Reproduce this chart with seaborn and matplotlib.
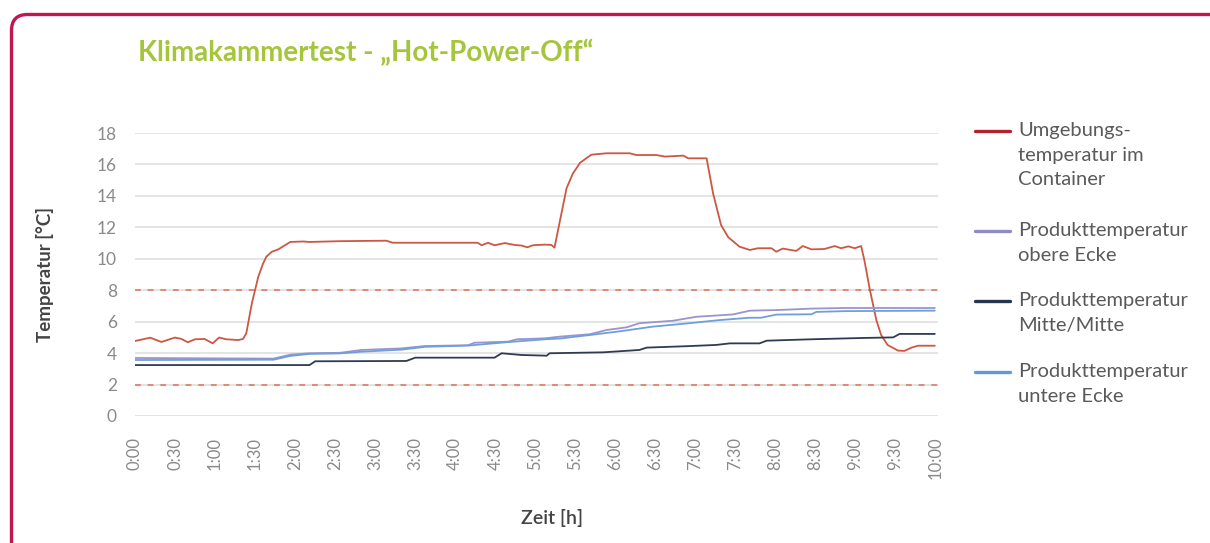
import numpy as np
import pandas as pd
import seaborn as sns
import matplotlib.pyplot as plt
from matplotlib.lines import Line2D
from matplotlib.patches import FancyBboxPatch

# Zeit in Stunden, Temperatur in °C
t_umg = [0.00, 0.19, 0.33, 0.50, 0.58, 0.66, 0.75, 0.87, 0.97, 1.05, 1.14, 1.29, 1.35, 1.39,
         1.46, 1.54, 1.60, 1.64, 1.71, 1.79, 1.94, 2.10, 2.18, 2.56, 3.14, 3.22, 4.28, 4.33,
         4.41, 4.49, 4.62, 4.74, 4.83, 4.90, 4.97, 5.12, 5.20, 5.24, 5.39, 5.47, 5.56, 5.70,
         5.89, 6.18, 6.26, 6.51, 6.62, 6.85, 6.91, 7.14, 7.22, 7.32, 7.41, 7.55, 7.68, 7.78,
         7.95, 8.01, 8.09, 8.26, 8.34, 8.45, 8.61, 8.74, 8.82, 8.91, 8.99, 9.07, 9.11, 9.18,
         9.26, 9.32, 9.40, 9.53, 9.61, 9.70, 9.78, 9.99]
v_umg = [4.77, 4.98, 4.71, 4.99, 4.90, 4.69, 4.88, 4.90, 4.62, 4.99, 4.88, 4.83, 4.90, 5.26,
         7.17, 8.86, 9.70, 10.13, 10.45, 10.60, 11.07, 11.10, 11.07, 11.12, 11.15, 11.02, 11.02, 10.86,
         11.02, 10.86, 11.00, 10.88, 10.84, 10.73, 10.86, 10.90, 10.88, 10.71, 14.48, 15.43, 16.11, 16.62,
         16.71, 16.71, 16.60, 16.60, 16.50, 16.56, 16.39, 16.39, 14.17, 12.15, 11.37, 10.77, 10.56, 10.67,
         10.67, 10.45, 10.65, 10.50, 10.81, 10.60, 10.62, 10.81, 10.67, 10.79, 10.67, 10.81, 9.92, 8.00,
         6.10, 5.15, 4.52, 4.16, 4.14, 4.35, 4.47, 4.47]

t_oben = [0.00, 1.73, 1.94, 2.18, 2.56, 2.83, 3.33, 3.62, 4.16, 4.24, 4.66, 4.77, 5.12, 5.31,
          5.68, 5.89, 6.14, 6.30, 6.72, 7.01, 7.47, 7.68, 8.03, 8.45, 8.86, 9.99]
v_oben = [3.69, 3.65, 3.90, 3.99, 4.02, 4.20, 4.30, 4.45, 4.50, 4.66, 4.73, 4.88, 4.94, 5.05,
          5.20, 5.47, 5.64, 5.90, 6.06, 6.31, 6.46, 6.70, 6.74, 6.83, 6.87, 6.87]

t_mitte = [0.00, 2.18, 2.25, 3.39, 3.50, 4.49, 4.58, 4.83, 5.12, 5.14, 5.18, 5.85, 6.30, 6.39,
           6.89, 7.26, 7.43, 7.80, 7.89, 8.45, 9.07, 9.47, 9.55, 9.99]
v_mitte = [3.24, 3.24, 3.48, 3.50, 3.71, 3.71, 3.99, 3.88, 3.84, 3.83, 3.99, 4.05, 4.20, 4.35,
           4.44, 4.52, 4.62, 4.62, 4.79, 4.88, 4.96, 5.00, 5.22, 5.22]

t_unten = [0.00, 1.73, 1.94, 2.18, 2.56, 2.83, 3.33, 3.62, 4.16, 4.66, 5.12, 5.31, 5.68, 6.09,
           6.46, 6.92, 7.30, 7.68, 7.82, 8.01, 8.45, 8.51, 8.86, 9.99]
v_unten = [3.56, 3.58, 3.82, 3.95, 3.98, 4.09, 4.22, 4.40, 4.48, 4.70, 4.88, 4.93, 5.15, 5.41,
           5.68, 5.90, 6.10, 6.25, 6.25, 6.45, 6.47, 6.62, 6.67, 6.70]

grenzwerte = [2, 8]
x_ticks = np.arange(0, 10.01, 0.5)
x_labels = [f"{int(h)}:{int(round((h % 1) * 60)):02d}" for h in x_ticks]

namen = ["Umgebungs-\ntemperatur im\nContainer",
         "Produkttemperatur\nobere Ecke",
         "Produkttemperatur\nMitte/Mitte",
         "Produkttemperatur\nuntere Ecke"]
farben = ["#cb5843", "#9a95cc", "#2f3a54", "#6e9fdc"]
legend_farben = ["#b42232", "#8f8ac2", "#283550", "#6298da"]

df = pd.concat([
    pd.DataFrame({"Zeit": t, "Temp": v, "Serie": n})
    for t, v, n in zip([t_umg, t_oben, t_mitte, t_unten],
                       [v_umg, v_oben, v_mitte, v_unten], namen)
])

sns.set_theme(style="white")
plt.rcParams['font.family'] = ['Lato', 'DejaVu Sans']

W, H = 1210, 543
fig = plt.figure(figsize=(W / 100, H / 100), dpi=100)
ax = fig.add_axes([135 / W, 1 - 416 / H, (938 - 135) / W, (416 - 133) / H])

ax.set_yticks(range(0, 19, 2))
ax.yaxis.grid(True, color="#e4e4e4", lw=1.4)
ax.set_axisbelow(True)

for g in grenzwerte:
    ax.axhline(g, color="#e08a72", ls=(0, (3, 3.5)), lw=1.4, zorder=1)

sns.lineplot(data=df, x="Zeit", y="Temp", hue="Serie", hue_order=namen,
             palette=dict(zip(namen, farben)), linewidth=1.3, legend=False,
             sort=False, estimator=None, ax=ax, zorder=3)

ax.set_xlim(0, 10.03)
ax.set_ylim(0, 18)
ax.set_xticks(x_ticks)
ax.set_xticklabels(x_labels, rotation=90, fontsize=12, color="#8a8a8a")
ax.tick_params(axis="x", length=0, pad=15)
ax.tick_params(axis="y", length=0, pad=13, labelsize=12.5, labelcolor="#8a8a8a")
for s in ax.spines.values():
    s.set_visible(False)

ax.set_ylabel("Temperatur [°C]", fontsize=13.5, color="#444444", fontweight="bold")
ax.yaxis.set_label_coords(-(135 - 45) / (938 - 135), 0.5)
ax.yaxis.label.set_va("center")
ax.set_xlabel("Zeit [h]", fontsize=14, color="#444444", fontweight="semibold")
ax.xaxis.set_label_coords(0.52, -(518 - 416) / (416 - 133))
ax.xaxis.label.set_va("center")

fig.text(138 / W, 1 - 53 / H, "Klimakammertest - \u201eHot-Power-Off\u201c",
         color="#a5c63b", fontsize=20, fontweight="bold", va="center")

# Legende rechts, Linie auf Hoehe der ersten Textzeile
leg_y = [131, 231, 301, 372]
for name, col, y in zip(namen, legend_farben, leg_y):
    fig.add_artist(Line2D([975 / W, 1010 / W], [1 - y / H, 1 - y / H],
                          color=col, lw=2.4, transform=fig.transFigure))
    fig.text(1018 / W, 1 - (y - 9) / H, name, fontsize=14.5, color="#5a5a5a",
             va="top", linespacing=1.55)

# Rahmen
rahmen = FancyBboxPatch((11.5, -60), 1400, H - 14.5 + 60,
                        boxstyle="round,pad=0,rounding_size=16",
                        fc="none", ec="#c0174d", lw=2.4, transform=None)
fig.patches.append(rahmen)

fig.savefig("out.png", dpi=100)
